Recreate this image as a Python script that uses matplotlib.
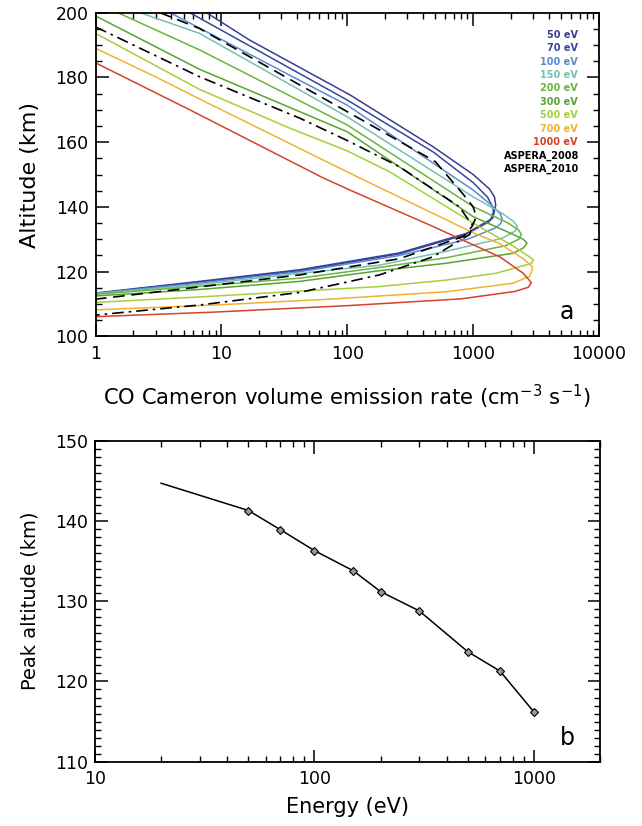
import numpy as np
import matplotlib
matplotlib.use("Agg")
import matplotlib.pyplot as plt
from matplotlib.ticker import LogLocator, MultipleLocator, NullFormatter

plt.rcParams['font.family'] = ['DejaVu Sans']

# ---- panel a: emission profiles (rate in cm-3 s-1, altitude in km) ----
rate_50 = [7.6, 16.8, 105, 480, 1000, 1350, 1480, 1510, 1470, 1430, 880, 260, 42, 6.7, 1]
alt_50 = [200, 191.5, 174.6, 158.6, 150, 145.5, 143, 140.5, 138.5, 136.5, 131.8, 125.8, 120.6, 117, 113.4]

rate_70 = [5.6, 100, 480, 1000, 1300, 1430, 1450, 1400, 1350, 850, 260, 42, 6.7, 1]
alt_70 = [200, 173, 157, 147.5, 143, 140, 138.5, 136.8, 135.5, 131.3, 125.5, 120.3, 116.8, 113.3]

rate_100 = [3.9, 100, 1000, 1450, 1650, 1700, 1650, 1500, 900, 260, 42, 6.7, 1]
alt_100 = [200, 171.4, 145.2, 140, 137.8, 136.3, 134.8, 133.5, 130, 125, 120, 116.5, 113.3]

rate_150 = [2.25, 6.7, 100, 1000, 1700, 2100, 2250, 2150, 1700, 610, 180, 42, 6.7, 1]
alt_150 = [200, 193.6, 167.8, 143.1, 138, 135.5, 133.8, 132.5, 130.3, 126.3, 122, 119.5, 116, 113.2]

rate_200 = [1.5, 6.7, 100, 1000, 1900, 2300, 2420, 2300, 1800, 610, 180, 42, 6.7, 1]
alt_200 = [200, 188.5, 165.3, 140.1, 135, 132.8, 131.5, 130, 128, 124.3, 121.3, 118, 115.5, 113]

rate_300 = [1, 6.7, 100, 1000, 2000, 2500, 2680, 2500, 2080, 610, 180, 42, 6.7, 1]
alt_300 = [199, 182.5, 163.2, 137, 131.8, 130, 128.8, 127.3, 125.7, 122.6, 120.3, 117, 114.5, 112.5]

rate_500 = [1, 6.7, 35, 100, 218, 1000, 2000, 2700, 3000, 2900, 2320, 1520, 610, 180, 42, 6.7, 1]
alt_500 = [193.6, 176.3, 164.3, 157.3, 150.8, 135, 128.3, 125, 123.7, 122.5, 121.5, 119.5, 117.4, 115.4, 114, 112.2, 110.5]

rate_700 = [1, 3.06, 7.4, 105, 1000, 1620, 2500, 2950, 2950, 2800, 2050, 610, 72, 10, 1]
alt_700 = [189, 180, 172.5, 150.4, 132, 128.7, 124, 121.5, 120.5, 118.5, 116.4, 113.8, 111.5, 109.8, 108.2]

rate_1000 = [1, 5.6, 64, 105, 477, 1000, 1625, 2500, 2900, 2750, 2150, 800, 100, 42, 8.6, 1]
alt_1000 = [184.5, 170, 149, 145.2, 134, 128.3, 124.6, 119.5, 116.6, 115.2, 113.9, 111.6, 109.5, 108.8, 107.5, 106.1]

rate_2008 = [3.25, 6.7, 100, 500, 850, 1000, 1060, 980, 850, 260, 42, 6.7, 1]
alt_2008 = [200, 195.1, 169.4, 154, 143.5, 140, 137, 134, 131, 124, 119, 115.3, 111.5]

rate_2010 = [1, 6.7, 42, 100, 260, 780, 880, 990, 940, 735, 480, 180, 42, 6.7, 1]
alt_2010 = [195.6, 180.2, 167.4, 160.5, 152.4, 140, 137, 134.4, 131.5, 129, 124.6, 119, 113.6, 109.7, 106.6]

energy_labels = ['50 eV', '70 eV', '100 eV', '150 eV', '200 eV', '300 eV', '500 eV', '700 eV', '1000 eV']
energy_colors = ['#3d3b94', '#34479c', '#5a8bd3', '#74c1b3', '#6cb33f', '#55a530', '#a6cf3a', '#efb330', '#d5432b']

# ---- panel b: peak altitude vs energy ----
energy = [20, 50, 70, 100, 150, 200, 300, 500, 700, 1000]
peak_alt = [144.7, 141.3, 138.9, 136.3, 133.8, 131.2, 128.8, 123.7, 121.3, 116.2]

fig = plt.figure(figsize=(6.42, 8.26), dpi=100)

#=======================================================================================================================
ax = fig.add_axes([0.1488, 0.5927, 0.7843, 0.392])
curves = [(rate_50, alt_50), (rate_70, alt_70), (rate_100, alt_100), (rate_150, alt_150), (rate_200, alt_200),
          (rate_300, alt_300), (rate_500, alt_500), (rate_700, alt_700), (rate_1000, alt_1000)]
for (r, a), c in zip(curves, energy_colors):
    ax.plot(r, a, color=c, lw=1.1)
ax.plot(rate_2008, alt_2008, color='k', lw=1.2, ls=(0, (7, 4)))
ax.plot(rate_2010, alt_2010, color='k', lw=1.2, ls=(0, (7, 3, 1.5, 3)))

ax.set_xscale('log')
ax.set_xlim(1, 10000)
ax.set_ylim(100, 200)
ax.set_xticks([1, 10, 100, 1000, 10000])
ax.set_xticklabels(['1', '10', '100', '1000', '10000'])
ax.xaxis.set_minor_locator(LogLocator(base=10, subs=np.arange(2, 10)))
ax.xaxis.set_minor_formatter(NullFormatter())
ax.yaxis.set_major_locator(MultipleLocator(20))
ax.yaxis.set_minor_locator(MultipleLocator(5))
ax.set_ylabel('Altitude (km)', fontsize=16)
ax.set_xlabel('CO Cameron volume emission rate (cm$^{-3}$ s$^{-1}$)', fontsize=15.2)
ax.yaxis.set_label_coords(-0.11, 0.5)
ax.xaxis.set_label_coords(0.5, -0.144)

# legend as coloured text
for i, (lab, c) in enumerate(zip(energy_labels, energy_colors)):
    ax.text(0.958, 0.932 - i * 0.0415, lab, color=c, transform=ax.transAxes, ha='right', va='center',
            fontsize=7, fontweight='bold')
for j, lab in enumerate(['ASPERA_2008', 'ASPERA_2010']):
    ax.text(0.96, 0.932 - (9 + j) * 0.0415, lab, color='k', transform=ax.transAxes, ha='right', va='center',
            fontsize=7, fontweight='bold')
ax.text(0.935, 0.075, 'a', transform=ax.transAxes, fontsize=17, ha='center', va='center')

#=======================================================================================================================
bx = fig.add_axes([0.148, 0.0778, 0.7866, 0.3887])
bx.plot(energy, peak_alt, color='k', lw=1.1)
bx.plot(energy[1:], peak_alt[1:], ls='none', marker='D', ms=3.8, mfc='0.6', mec='k', mew=0.8)
bx.set_xscale('log')
bx.set_xlim(10, 2000)
bx.set_ylim(110, 150)
bx.set_xticks([10, 100, 1000])
bx.set_xticklabels(['10', '100', '1000'])
bx.xaxis.set_minor_locator(LogLocator(base=10, subs=np.arange(2, 10)))
bx.xaxis.set_minor_formatter(NullFormatter())
bx.yaxis.set_major_locator(MultipleLocator(10))
bx.yaxis.set_minor_locator(MultipleLocator(1))
bx.set_ylabel('Peak altitude (km)', fontsize=14)
bx.set_xlabel('Energy (eV)', fontsize=15)
bx.yaxis.set_label_coords(-0.109, 0.5)
bx.xaxis.set_label_coords(0.5, -0.11)
bx.text(0.935, 0.075, 'b', transform=bx.transAxes, fontsize=17, ha='center', va='center')

for a_ in (ax, bx):
    a_.tick_params(which='both', direction='in', top=True, right=True, labelsize=12.5)
    a_.tick_params(axis='x', which='major', pad=6)
    a_.tick_params(axis='y', which='major', pad=5)
    a_.tick_params(which='major', length=9, width=1.1)
    a_.tick_params(which='minor', length=4.5, width=1.0)
    for s in a_.spines.values():
        s.set_linewidth(1.3)

fig.savefig('out.png', dpi=100)
